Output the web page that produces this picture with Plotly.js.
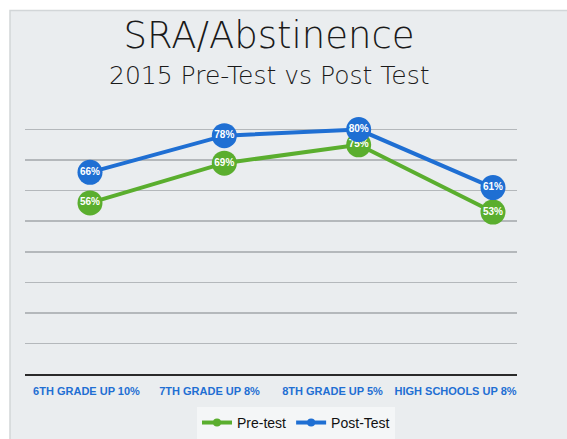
<!DOCTYPE html>
<html>
<head>
<meta charset="utf-8">
<script src="https://cdn.plot.ly/plotly-3.0.1.min.js"></script>
<style>html,body{margin:0;padding:0;background:#fff;}#chart{width:567px;height:439px;}</style>
</head>
<body>
<div id="chart"></div>
<script>
const categories = ["6TH GRADE UP 10%", "7TH GRADE UP 8%", "8TH GRADE UP 5%", "HIGH SCHOOLS UP 8%"];
const seriesNames = ["Pre-test", "Post-Test"];
const preTest = [56, 69, 75, 53];
const postTest = [66, 78, 80, 61];
const yTicks = [0, 10, 20, 30, 40, 50, 60, 70, 80];

const idx = categories.map((c, i) => i);
const pct = v => v + "%";
const sans = "'Liberation Sans', Arial, sans-serif";
const light = "'DejaVu Sans', sans-serif";
const colors = ["#5aae2e", "#1f6fd3"];
const values = [preTest, postTest];

const traces = [
  {x: idx, y: idx.map(() => null), xaxis: "x2", yaxis: "y", type: "scatter", mode: "markers", showlegend: false, hoverinfo: "skip"}
];
values.forEach((vals, k) => {
  traces.push({
    x: idx, y: vals, name: seriesNames[k], type: "scatter", mode: "lines+markers+text",
    text: vals.map(pct), textposition: "middle center",
    textfont: {family: sans, size: 10, color: "#ffffff", weight: "bold"},
    line: {color: colors[k], width: 4},
    marker: {color: colors[k], size: 25},
    cliponaxis: false, hoverinfo: "skip", showlegend: false, legendgroup: "g" + k
  });
});
values.forEach((vals, k) => {
  traces.push({
    x: idx, y: idx.map(() => null), name: seriesNames[k], type: "scatter", mode: "lines+markers",
    line: {color: colors[k], width: 4}, marker: {color: colors[k], size: 8},
    hoverinfo: "skip", showlegend: true, legendgroup: "g" + k
  });
});

const layout = {
  width: 567, height: 439,
  margin: {l: 25, r: 50, t: 99, b: 65, autoexpand: false},
  paper_bgcolor: "#ffffff",
  plot_bgcolor: "rgba(0,0,0,0)",
  showlegend: true,
  legend: {
    orientation: "h", x: (296 - 25) / 492, xanchor: "center", y: (374 - 423) / 275.4, yanchor: "middle",
    font: {family: sans, size: 14, color: "#111111"},
    bgcolor: "rgba(246,247,248,0.85)", itemwidth: 30, tracegroupgap: 0
  },
  title: {
    text: "SRA/Abstinence", x: 269/567, xanchor: "center", xref: "container",
    y: 1 - 35/439, yanchor: "middle", yref: "container",
    font: {family: light, size: 37, color: "#1a1a1a", weight: 200}
  },
  annotations: [{
    text: "2015 Pre-Test vs Post Test", xref: "paper", yref: "paper",
    x: (269 - 25) / 492, y: (374 - 75) / 275.4, xanchor: "center", yanchor: "middle",
    showarrow: false,
    font: {family: light, size: 25, color: "#1a1a1a", weight: 300}
  }],
  shapes: [{
    type: "rect", xref: "paper", yref: "paper", layer: "below",
    x0: (10 - 25) / 492, x1: (568 - 25) / 492,
    y0: (374 - 440) / 275.4, y1: (374 - 10) / 275.4,
    fillcolor: "#eaedef", line: {color: "#d2d6d8", width: 1.5}
  }],
  xaxis: {
    type: "linear", range: [(25 - 90) / 134.33, (517 - 90) / 134.33],
    showgrid: false, zeroline: false, showticklabels: false, showline: false, fixedrange: true, automargin: false
  },
  xaxis2: {
    type: "linear", overlaying: "x", anchor: "y", side: "bottom",
    range: [-0.5, categories.length - 0.5],
    tickvals: idx, ticktext: categories, ticks: "", tickangle: 0, ticklabelstandoff: 6,
    showgrid: false, zeroline: false, automargin: false,
    showline: true, linecolor: "#2a2a2a", linewidth: 2,
    tickfont: {family: sans, size: 11, color: "#1f6fd3", weight: "bold"},
    fixedrange: true
  },
  yaxis: {
    range: [0, 90], tickvals: yTicks, showticklabels: false, ticks: "", automargin: false,
    showgrid: true, gridcolor: "#b4b8bb", gridwidth: 1.5, zeroline: false, fixedrange: true
  }
};

Plotly.newPlot("chart", traces, layout, {displayModeBar: false, staticPlot: true});
</script>
</body>
</html>
